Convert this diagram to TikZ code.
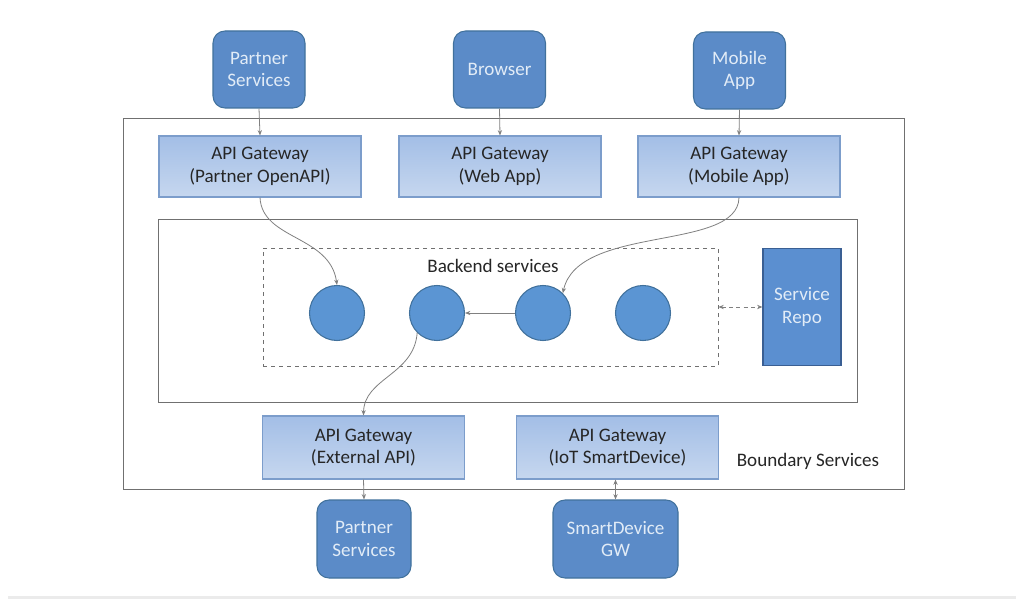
\documentclass[tikz,border=0pt]{standalone}
\usepackage{fontspec}
\setmainfont{Carlito}
\usetikzlibrary{arrows.meta,shadings}
\definecolor{darkfill}{HTML}{5B8BC8}
\definecolor{darkedge}{HTML}{41719C}
\definecolor{lighttext}{HTML}{E2ECF7}
\definecolor{gwtop}{HTML}{A3BEE6}
\definecolor{gwbot}{HTML}{C6D7EF}
\definecolor{gwedge}{HTML}{7C9DCB}
\definecolor{circfill}{HTML}{5B95D3}
\definecolor{repofill}{HTML}{5B8FD0}
\definecolor{repoedge}{HTML}{3A5F93}
\definecolor{framegray}{HTML}{707070}
\definecolor{arrowgray}{HTML}{808080}
\tikzset{
  txt/.style={font=\fontsize{14.3}{17}\selectfont, align=center, inner sep=0pt},
  client/.style={txt, draw=darkedge, fill=darkfill, text=lighttext, rounded corners=9pt, line width=0.8pt},
  gateway/.style={txt, draw=gwedge, top color=gwtop, bottom color=gwbot, text=black!85, line width=0.8pt, minimum width=151.5pt, minimum height=45.75pt},
  svc/.style={circle, draw=darkedge, fill=circfill, line width=0.8pt, minimum size=41.25pt, inner sep=0pt},
  frame/.style={draw=framegray, line width=0.7pt, inner sep=0pt},
  conn/.style={draw=arrowgray, line width=0.6pt, -{Stealth[length=4pt,width=3.2pt]}},
  biconn/.style={draw=arrowgray, line width=0.6pt, {Stealth[length=4pt,width=3.2pt]}-{Stealth[length=4pt,width=3.2pt]}}
}
\begin{document}
\begin{tikzpicture}[x=0.75pt, y=-0.75pt]
\useasboundingbox (0,0) rectangle (1024,606);
\fill[white] (0,0) rectangle (1024,606);
\fill[black!8] (8,596) rectangle (1016,599);

% frames
\node[frame, minimum width=585.75pt, minimum height=278.25pt] (outer) at (513.5,303.5) {};
\node[frame, minimum width=524.25pt, minimum height=137.25pt] (inner) at (507.5,310.5) {};
\node[draw=framegray, dashed, line width=0.6pt, inner sep=0pt, minimum width=341.25pt, minimum height=88.5pt] (be) at (490.5,307) {};
\node[txt, text=black!85] (betitle) at (493,266) {Backend services};
\node[txt, text=black!85] (bstitle) at (808,461) {Boundary Services};

% top clients
\node[client, minimum width=69pt, minimum height=57.75pt] (pstop) at (259,69.5) {Partner\\Services};
\node[client, minimum width=69pt, minimum height=57.75pt] (browser) at (499.5,69.5) {Browser};
\node[client, minimum width=69pt, minimum height=57.75pt] (mobile) at (739.5,70.5) {Mobile\\App};

% top gateways
\node[gateway] (gwp) at (260,166.5) {API Gateway\\(Partner OpenAPI)};
\node[gateway] (gww) at (500,166.5) {API Gateway\\(Web App)};
\node[gateway] (gwm) at (739,166.5) {API Gateway\\(Mobile App)};

% services
\node[svc] (c1) at (337,313) {};
\node[svc] (c2) at (437,313) {};
\node[svc] (c3) at (543,313) {};
\node[svc] (c4) at (643,313) {};
\node[txt, draw=repoedge, fill=repofill, text=lighttext, line width=0.8pt, minimum width=58.5pt, minimum height=87.75pt] (repo) at (802,307) {Service\\Repo};

% bottom gateways
\node[gateway, minimum height=47.25pt] (gwe) at (363.5,447.5) {API Gateway\\(External API)};
\node[gateway, minimum height=47.25pt] (gwi) at (617.5,447.5) {API Gateway\\(IoT SmartDevice)};

% bottom clients
\node[client, minimum width=70.5pt, minimum height=58.5pt] (psbot) at (364,539) {Partner\\Services};
\node[client, minimum width=93.75pt, minimum height=58.5pt] (sdgw) at (615.5,539) {SmartDevice\\GW};

% connectors
\draw[conn] (pstop.south) -- (gwp.north);
\draw[conn] (browser.south) -- (gww.north);
\draw[conn] (mobile.south) -- (gwm.north);
\draw[conn] (gwp.south) .. controls (262,240) and (330,235) .. (c1.north);
\draw[conn] (gwm.south) .. controls (738,252) and (578,224) .. (c3.north east);
\draw[conn] (c3.west) -- (c2.east);
\draw[conn] (c2.south west) .. controls (414,375) and (364,378) .. (gwe.north);
\draw[conn] (gwe.south) -- (psbot.north);
\draw[biconn] (sdgw.north) -- (sdgw.north |- gwi.south);
\draw[biconn, dashed, dash pattern=on 3pt off 2.5pt] (be.east) -- (repo.west);
\end{tikzpicture}
\end{document}
